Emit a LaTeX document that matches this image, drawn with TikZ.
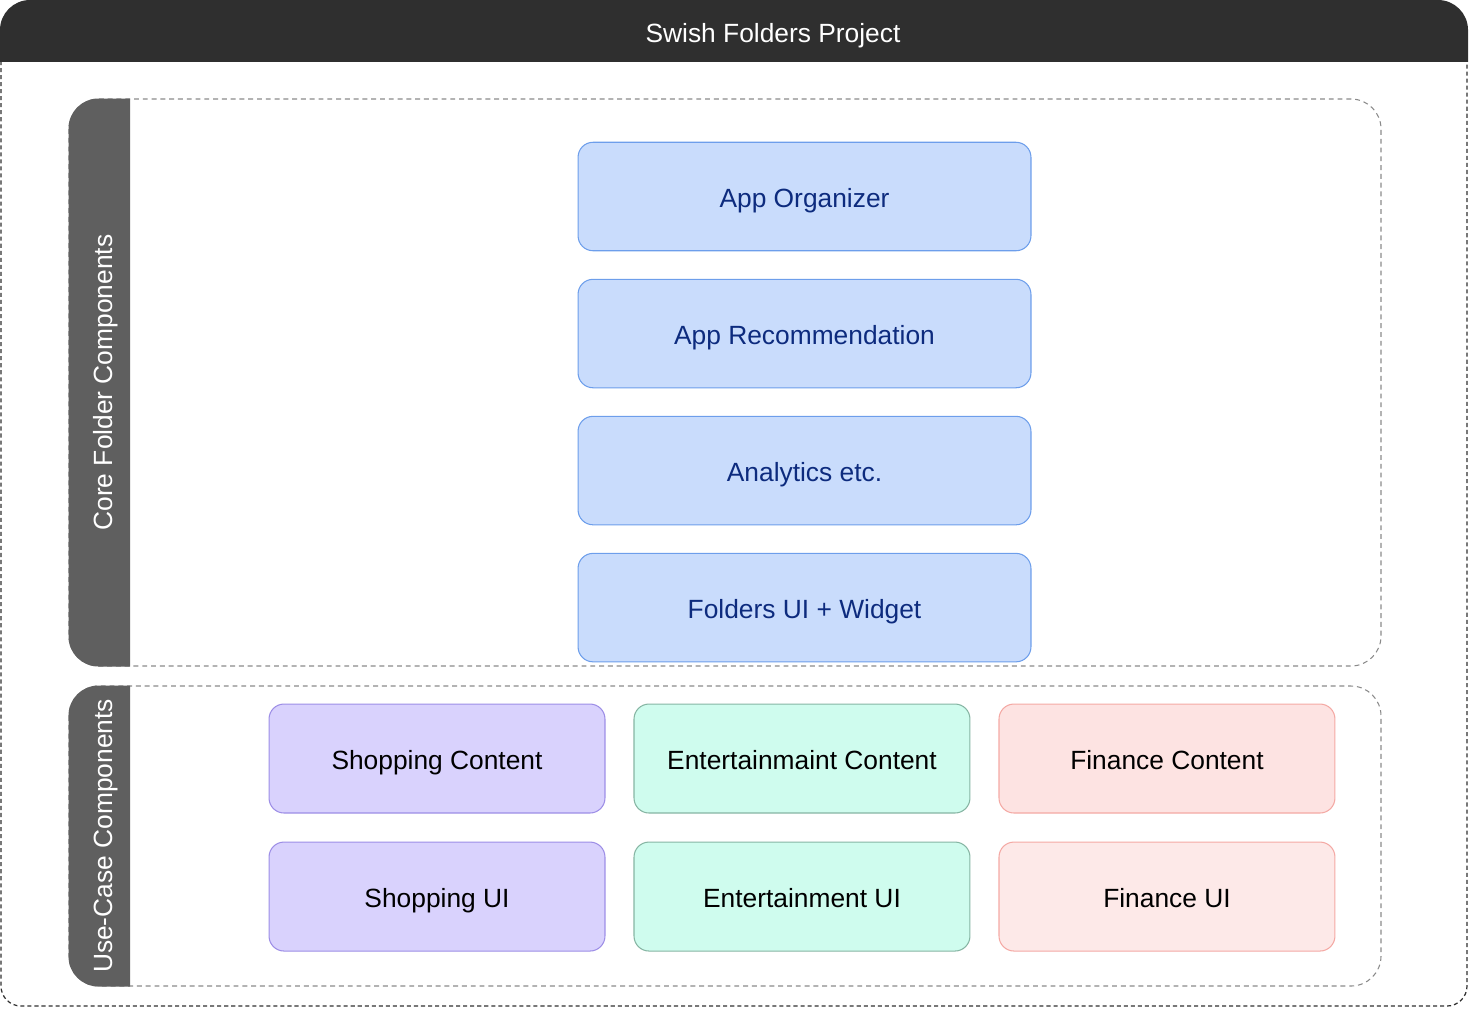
\documentclass[tikz,border=0pt]{standalone}
\usepackage{fontspec}
\setmainfont{Liberation Sans}
\usetikzlibrary{positioning}

\definecolor{headgrey}{HTML}{2F2F2F}
\definecolor{tabgrey}{HTML}{5F5F5F}
\definecolor{dashgrey}{HTML}{8A8A8A}
\definecolor{coreblue}{HTML}{C9DCFC}
\definecolor{coreline}{HTML}{6D9EEB}
\definecolor{corenavy}{HTML}{0D2B7E}
\definecolor{shopfill}{HTML}{D9D2FD}
\definecolor{shopline}{HTML}{9D8EE6}
\definecolor{funfill}{HTML}{CFFCEE}
\definecolor{funline}{HTML}{86B5A3}
\definecolor{moneyfill}{HTML}{FDE3E2}
\definecolor{moneyline}{HTML}{F4A9A4}

\begin{document}
\begin{tikzpicture}[x=0.02cm, y=-0.02cm,
  every node/.style={font=\fontsize{15}{18}\selectfont, text height=12pt, text depth=0pt},
  box/.style={draw, rounded corners=0.3cm, line width=0.6pt, inner sep=0pt},
  corebox/.style={box, fill=coreblue, draw=coreline, text=corenavy, minimum width=9.06cm, minimum height=2.17cm},
  usebox/.style={box, minimum width=6.72cm, minimum height=2.18cm},
  shopbox/.style={usebox, fill=shopfill, draw=shopline},
  funbox/.style={usebox, fill=funfill, draw=funline},
  moneybox/.style={usebox, fill=moneyfill, draw=moneyline},
  frameline/.style={draw=dashgrey, line width=0.6pt, dash pattern=on 2.8pt off 2.2pt, rounded corners=0.6cm},
  tablabel/.style={text=white, rotate=90}]
%
\path[use as bounding box] (0,0) rectangle (1469,1009);
%
\newcommand{\group}[4]{
  \draw[frameline] (69,#2) rectangle (1381,#3);
  \begin{scope}
    \clip (0,#2-1) rectangle (130,#3+1);
    \fill[tabgrey, rounded corners=0.6cm] (68.5,#2-0.5) rectangle (200,#3+0.5);
  \end{scope}
  \node[tablabel] (#1) at (102,{(#2+#3)/2}) {#4};
}
%
% title bar and outer frame
\begin{scope}
  \clip (0,0) rectangle (1469,61);
  \fill[headgrey, rounded corners=0.6cm] (0,0) rectangle (1468,120);
\end{scope}
\node[text=white] (title) at (773,31.5) {Swish Folders Project};
\draw[draw=headgrey, line width=0.7pt, dash pattern=on 2.3pt off 1.7pt, rounded corners=0.4cm]
  (1,61) -- (1,1006) -- (1467,1006) -- (1467,61);
%
\group{corelabel}{99}{666}{Core Folder Components}
\group{uselabel}{686}{986}{Use-Case Components}
%
\node[corebox] (organizer) at (804.5,196.5) {App Organizer};
\node[corebox, below=0.55cm of organizer] (recommend) {App Recommendation};
\node[corebox, below=0.55cm of recommend] (analytics) {Analytics etc.};
\node[corebox, below=0.55cm of analytics] (folders) {Folders UI + Widget};
%
\node[shopbox] (shopcontent) at (437,758.5) {Shopping Content};
\node[funbox, right=0.56cm of shopcontent] (funcontent) {Entertainmaint Content};
\node[moneybox, right=0.56cm of funcontent] (moneycontent) {Finance Content};
\node[shopbox, below=0.56cm of shopcontent] (shopui) {Shopping UI};
\node[funbox, below=0.56cm of funcontent] (funui) {Entertainment UI};
\node[moneybox, fill=moneyfill!80!white, below=0.56cm of moneycontent] (moneyui) {Finance UI};
%
\end{tikzpicture}
\end{document}
